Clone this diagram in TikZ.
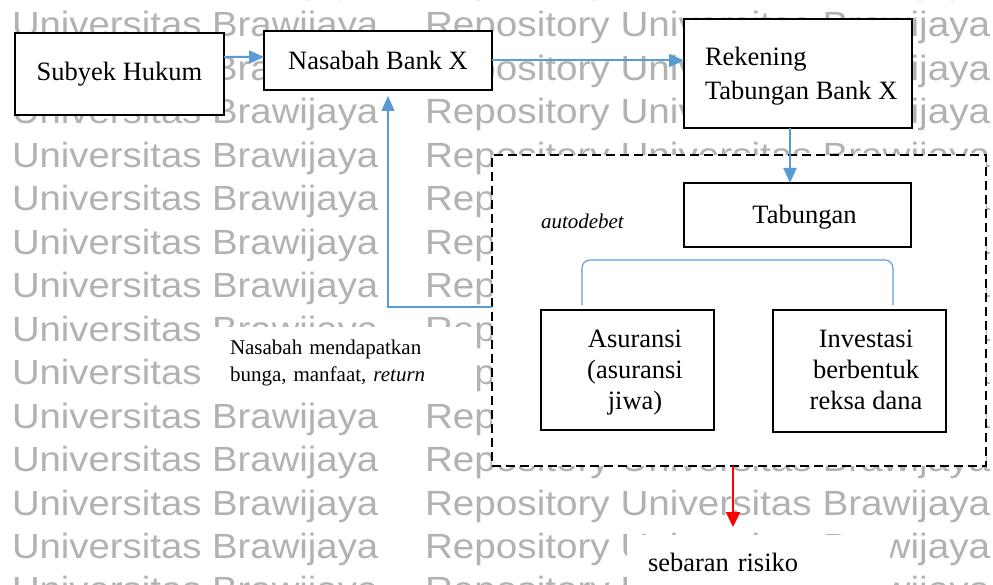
\documentclass[tikz,border=0pt]{standalone}
\usepackage{fontspec}
\setmainfont{Liberation Serif}
\newfontfamily\wmfont{Liberation Sans}
\usetikzlibrary{arrows.meta,calc}
\definecolor{wmgray}{gray}{0.70}
\definecolor{arrblue}{RGB}{91,155,213}
\begin{document}
\begin{tikzpicture}[x=1bp,y=-1bp,
  every node/.style={inner sep=0pt, outer sep=0pt},
  wm/.style={anchor=base west, text=wmgray, font=\wmfont\fontsize{35bp}{35bp}\selectfont},
  box/.style={draw=black, line width=2bp, fill=white, font=\fontsize{26.5bp}{30.5bp}\selectfont},
  grpbox/.style={draw=black, line width=2bp, dash pattern=on 9bp off 5bp, fill=white},
  txt/.style={font=\fontsize{26.5bp}{31bp}\selectfont, align=center},
  notetxt/.style={font=\fontsize{21bp}{27bp}\selectfont},
  barrow/.style={draw=arrblue, line width=2bp, -{Triangle[length=15bp,width=13bp]}},
  retline/.style={draw=arrblue, line width=1.6bp, -{Triangle[length=15bp,width=13bp]}},
  brk/.style={draw=arrblue, line width=1.1bp, rounded corners=8bp},
  rarrow/.style={draw=red, line width=2.4bp, -{Triangle[length=15bp,width=14bp]}}
]
\useasboundingbox (0,0) rectangle (993,585);
\begin{scope}
\clip (0,0) rectangle (993,585);
\foreach \k in {0,...,14}{
  \pgfmathsetmacro{\yy}{37+43.46*(\k-1)}
  \node[wm] (wl\k) at (12,\yy) {\scalebox{1.095}[1]{Universitas Brawijaya}};
  \node[wm] (wr\k) at (425,\yy) {\scalebox{1.105}[1]{Repository Universitas Brawijaya}};
}
\end{scope}

% dashed group
\node[grpbox, minimum width=494bp, minimum height=311bp] (grp) at (739,310.5) {};

% boxes
\node[box, minimum width=209bp, minimum height=82bp] (sub) at (119.5,74) {Subyek Hukum};
\node[box, minimum width=228bp, minimum height=59bp] (nas) at (378,60.5) {Nasabah Bank X};
\node[box, minimum width=228bp, minimum height=109bp] (rek) at (798,73.5) {};
\node[txt, align=left, anchor=north west, font=\fontsize{26.5bp}{34bp}\selectfont] (rekt) at (705,47) {Rekening\\Tabungan Bank X};
\node[box, minimum width=227bp, minimum height=64bp] (tab) at (797.5,215) {};
\node[txt, anchor=base] (tabt) at (804.5,224) {Tabungan};
\node[box, minimum width=173bp, minimum height=120bp] (asur) at (627.5,370) {};
\node[txt, anchor=north] (asurt) at (635,330) {Asuransi\\(asuransi\\jiwa)};
\node[box, minimum width=173bp, minimum height=121bp] (inv) at (859.5,371) {};
\node[txt, anchor=north] (invt) at (866,330) {Investasi\\berbentuk\\reksa dana};

% labels
\node[notetxt, font=\fontsize{21bp}{27bp}\selectfont\itshape, anchor=base west] (auto) at (541,229) {autodebet};
\node[notetxt, fill=white, anchor=north west, inner xsep=17bp, inner ysep=13bp, text width=230bp, align=left] (ret) at (213,327) {Nasabah mendapatkan\\bunga, manfaat, \textit{return}};
\node[txt, fill=white, anchor=north west, inner xsep=21bp, inner ysep=0pt, text width=221bp, align=left, minimum height=54bp] (seb) at (627,535) {sebaran risiko};

% connectors
\coordinate (a1s) at ([yshift=17bp]sub.east);
\coordinate (a1e) at ([yshift=3.5bp]nas.west);
\draw[barrow] (a1s) -- (a1e);
\draw[barrow] (nas.east) -- (nas.east -| rek.west);
\coordinate (a3s) at ([xshift=-8bp]rek.south);
\coordinate (a3e) at (a3s |- tab.north);
\draw[barrow] (a3s) -- (a3e);

\coordinate (rb) at ([yshift=3.5bp]grp.west);
\coordinate (rt) at ([xshift=10bp,yshift=-6bp]nas.south);
\draw[retline] (rb) -| (rt);

\coordinate (bl) at (582,305);
\coordinate (btl) at (582,260);
\coordinate (btr) at (893,260);
\coordinate (br) at (893,305);
\draw[brk] (bl) -- (btl) -- (btr) -- (br);

\coordinate (rs) at ([xshift=-6bp]grp.south);
\coordinate (re0) at (rs |- seb.north);
\coordinate (re) at ([yshift=8bp]re0);
\draw[rarrow] (rs) -- (re);
\end{tikzpicture}
\end{document}
